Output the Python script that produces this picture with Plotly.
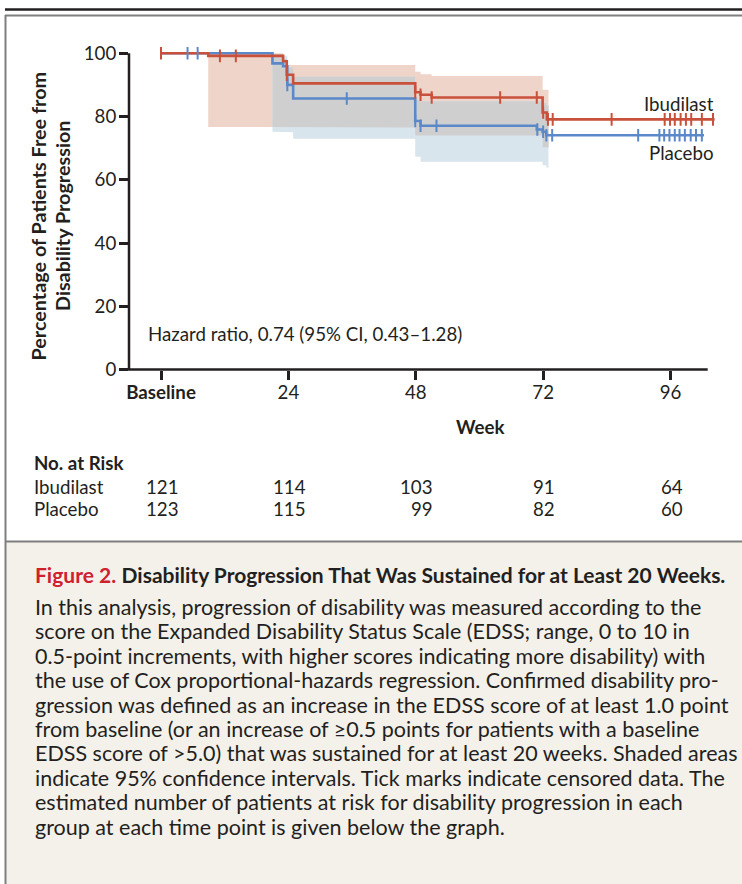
import plotly.graph_objects as go

W, H = 742, 884

# ---------------- data ----------------
week_ticks = [0, 24, 48, 72, 96]
week_labels = ["<b>Baseline</b>", "24", "48", "72", "96"]
pct_ticks = [0, 20, 40, 60, 80, 100]

ibu_time = [0, 8.9, 23.0, 23.7, 24.9, 47.9, 48.9, 51.0, 71.9, 72.7, 104.3]
ibu_surv = [100, 99.2, 97.5, 93.2, 90.5, 87.7, 86.9, 86.0, 81.3, 79.1, 79.1]
ibu_cens = [0, 11.1, 14.1, 23.7, 47.9, 48.9, 51.0, 63.9, 70.8, 72.0, 72.9, 73.8,
            84.9, 94.9, 95.9, 96.8, 97.9, 98.9, 99.9, 101.9, 104.0]

pbo_time = [0, 21.0, 23.0, 23.8, 24.9, 47.9, 48.9, 70.8, 71.9, 72.6, 102.3]
pbo_surv = [100, 96.8, 95.9, 90.0, 85.7, 78.6, 77.1, 75.9, 75.2, 74.1, 74.1]
pbo_cens = [5.0, 6.9, 23.8, 35.0, 47.9, 48.9, 51.9, 70.9, 72.0, 72.6, 73.7,
            89.9, 93.9, 94.8, 95.8, 96.8, 97.7, 98.7, 99.8, 100.8, 101.9]

ibu_ci_time = [8.9, 23.0, 23.7, 47.9, 48.9, 51.0, 71.9, 73.0]
ibu_ci_low = [76.7, 76.5, 76.5, 74.0, 74.0, 74.0, 70.3]
ibu_ci_high = [100.0, 98.3, 96.3, 94.2, 93.4, 92.8, 88.5]

pbo_ci_time = [21.0, 23.0, 23.8, 24.9, 47.9, 48.9, 70.8, 71.9, 72.6, 73.0]
pbo_ci_low = [75.2, 75.2, 75.0, 73.0, 67.3, 65.7, 65.7, 64.6, 63.9]
pbo_ci_high = [99.8, 99.2, 95.5, 92.6, 85.3, 84.8, 84.8, 84.3, 83.5]

risk_groups = ["Ibudilast", "Placebo"]
ibu_risk = [121, 114, 103, 91, 64]
pbo_risk = [123, 115, 99, 82, 60]

hr_text = "Hazard ratio, 0.74 (95% CI, 0.43\u20131.28)"

caption_title_red = "Figure 2."
caption_title = "Disability Progression That Was Sustained for at Least 20 Weeks."
caption_lines = [
    "In this analysis, progression of disability was measured according to the",
    "score on the Expanded Disability Status Scale (EDSS; range, 0 to 10 in",
    "0.5-point increments, with higher scores indicating more disability) with",
    "the use of Cox proportional-hazards regression. Confirmed disability pro-",
    "gression was defined as an increase in the EDSS score of at least 1.0 point",
    "from baseline (or an increase of \u22650.5 points for patients with a baseline",
    "EDSS score of >5.0) that was sustained for at least 20 weeks. Shaded areas",
    "indicate 95% confidence intervals. Tick marks indicate censored data. The",
    "estimated number of patients at risk for disability progression in each",
    "group at each time point is given below the graph.",
]

# ---------------- styles ----------------
RED = "#c9503a"
BLUE = "#5b88c8"
PINK = "#eed4c9"
LBLUE = "#d8e5ed"
GRAY = "#cfcfcf"
INK = "#231f20"
FRAME = "#7f7f7f"
FONT = "Lato"
FS = 18.7      # chart text size
CFS = 21.5     # caption body size

# plot-area geometry (pixels)
L, R, B = 129.0, 718.3, 369.5
XR = [-6.03, 105.0]
YR = [0, 105]
PXU = 3.162
T = B - YR[1] * PXU


def px(x):
    return x / W


def py(y):
    return 1 - y / H


def step_at(times, vals, t):
    v = vals[0]
    for ti, vi in zip(times, vals):
        if ti <= t + 1e-9:
            v = vi
    return v


def band_polygon(t, lo, hi):
    xs, ys = [], []
    for i in range(len(lo)):
        xs += [t[i], t[i + 1]]
        ys += [hi[i], hi[i]]
    for i in reversed(range(len(lo))):
        xs += [t[i + 1], t[i]]
        ys += [lo[i], lo[i]]
    xs.append(xs[0])
    ys.append(ys[0])
    return xs, ys


def overlap(t1, lo1, hi1, t2, lo2, hi2):
    start = max(t1[0], t2[0])
    end = min(t1[-1], t2[-1])
    pts = sorted(set([p for p in t1 + t2 if start <= p <= end]))
    lo, hi = [], []
    for a in pts[:-1]:
        lo.append(max(step_at(t1[:-1], lo1, a), step_at(t2[:-1], lo2, a)))
        hi.append(min(step_at(t1[:-1], hi1, a), step_at(t2[:-1], hi2, a)))
    return pts, lo, hi


fig = go.Figure()

bx, by = band_polygon(ibu_ci_time, ibu_ci_low, ibu_ci_high)
fig.add_trace(go.Scatter(x=bx, y=by, fill="toself", fillcolor=PINK, mode="lines",
                         line=dict(width=0), hoverinfo="skip", showlegend=False))
bx, by = band_polygon(pbo_ci_time, pbo_ci_low, pbo_ci_high)
fig.add_trace(go.Scatter(x=bx, y=by, fill="toself", fillcolor=LBLUE, mode="lines",
                         line=dict(width=0), hoverinfo="skip", showlegend=False))
ot, ol, oh = overlap(ibu_ci_time, ibu_ci_low, ibu_ci_high, pbo_ci_time, pbo_ci_low, pbo_ci_high)
bx, by = band_polygon(ot, ol, oh)
fig.add_trace(go.Scatter(x=bx, y=by, fill="toself", fillcolor=GRAY, mode="lines",
                         line=dict(width=0), hoverinfo="skip", showlegend=False))

fig.add_trace(go.Scatter(x=pbo_time, y=pbo_surv, mode="lines", line_shape="hv",
                         line=dict(color=BLUE, width=2.6), name="Placebo", showlegend=False))
fig.add_trace(go.Scatter(x=ibu_time, y=ibu_surv, mode="lines", line_shape="hv",
                         line=dict(color=RED, width=2.6), name="Ibudilast", showlegend=False))

fig.add_trace(go.Scatter(x=pbo_cens, y=[step_at(pbo_time, pbo_surv, t) for t in pbo_cens],
                         mode="markers", showlegend=False,
                         marker=dict(symbol="line-ns", size=9, line=dict(color=BLUE, width=2))))
fig.add_trace(go.Scatter(x=ibu_cens, y=[step_at(ibu_time, ibu_surv, t) for t in ibu_cens],
                         mode="markers", showlegend=False,
                         marker=dict(symbol="line-ns", size=9, line=dict(color=RED, width=2))))

axis_common = dict(showgrid=False, zeroline=False, showline=False, ticks="outside",
                   ticklen=9, tickwidth=2.5, tickcolor=INK, automargin=False,
                   tickfont=dict(family=FONT, size=FS, color=INK), fixedrange=True)

fig.update_layout(
    template="none",
    width=W, height=H, autosize=False,
    margin=dict(l=0, r=0, t=0, b=0, pad=0),
    paper_bgcolor="white", plot_bgcolor="rgba(0,0,0,0)",
    font=dict(family=FONT, color=INK, size=FS),
    showlegend=False,
    xaxis=dict(range=XR, domain=[px(L), px(R)], tickvals=week_ticks, ticktext=week_labels,
               ticklabelstandoff=-3, **axis_common),
    yaxis=dict(range=YR, domain=[py(B), py(T)], tickvals=pct_ticks,
               ticklabelstandoff=-1, **axis_common),
)

x_end = L + (103 - XR[0]) * (R - L) / (XR[1] - XR[0])
shapes = [
    # caption background
    dict(type="rect", xref="paper", yref="paper", x0=px(6), x1=px(W), y0=py(H), y1=py(542),
         fillcolor="#f4f1eb", line=dict(width=0), layer="below"),
    dict(type="line", xref="paper", yref="paper", x0=px(5), x1=px(W), y0=py(9.5), y1=py(9.5),
         line=dict(color=INK, width=2.5)),
    dict(type="line", xref="paper", yref="paper", x0=px(5), x1=px(W), y0=py(15.5), y1=py(15.5),
         line=dict(color=FRAME, width=2)),
    dict(type="line", xref="paper", yref="paper", x0=px(5.5), x1=px(5.5), y0=py(15), y1=py(H),
         line=dict(color=FRAME, width=2)),
    dict(type="line", xref="paper", yref="paper", x0=px(5), x1=px(W), y0=py(541.5), y1=py(541.5),
         line=dict(color=FRAME, width=2)),
    # axis lines
    dict(type="line", xref="paper", yref="paper", x0=px(L - 1.2), x1=px(x_end),
         y0=py(B), y1=py(B), line=dict(color=INK, width=2.5)),
    dict(type="line", xref="paper", yref="paper", x0=px(L), x1=px(L),
         y0=py(B), y1=py(B - 100 * PXU), line=dict(color=INK, width=2.5)),
]
fig.update_layout(shapes=shapes)


def note(x, y, text, xref="paper", yref="paper", xanchor="center", size=FS, **kw):
    d = dict(xref=xref, yref=yref, x=x, y=y, text=text, xanchor=xanchor, yanchor="middle",
             showarrow=False, font=dict(family=FONT, size=size, color=INK))
    d.update(kw)
    return d


ann = []
# y-axis title (two lines)
ann.append(note(px(37.5), py(216), "<b>Percentage of Patients Free from</b>", size=19.8, textangle=-90))
ann.append(note(px(62), py(216), "<b>Disability Progression</b>", size=19.8, textangle=-90))
# x-axis title
ann.append(note((480 - 161) / 5.308, py(427), "<b>Week</b>", xref="x"))
# hazard ratio
ann.append(note(-2.83, 11.1, hr_text, xref="x", yref="y", xanchor="left"))
# series labels
ann.append(note(104.5, 84.0, "Ibudilast", xref="x", yref="y", xanchor="right"))
ann.append(note(104.5, 68.5, "Placebo", xref="x", yref="y", xanchor="right"))
# number at risk
ann.append(note(px(32), py(463), "<b>No. at Risk</b>", xanchor="left"))
for grp, yy, vals in [(risk_groups[0], 487, ibu_risk), (risk_groups[1], 509.5, pbo_risk)]:
    ann.append(note(px(32), py(yy), grp, xanchor="left"))
    for i, (wk, v) in enumerate(zip(week_ticks, vals)):
        maxlen = max(len(str(ibu_risk[i])), len(str(pbo_risk[i])))
        ann.append(note(wk, py(yy), str(v), xref="x",
                        xshift=1 + (maxlen - len(str(v))) * 5.0))
# caption
ann.append(note(px(33), py(574), f"<span style='color:#d0202e'><b>{caption_title_red}</b></span> <b>{caption_title}</b>",
                xanchor="left", size=21))
for i, line in enumerate(caption_lines):
    ann.append(note(px(33), py(607 + 24.4 * i), line, xanchor="left", size=CFS))

fig.update_layout(annotations=ann)

fig.write_html("out.html",
               config={"displayModeBar": False},
               post_script="document.body.style.margin='0';document.body.style.padding='0';")
